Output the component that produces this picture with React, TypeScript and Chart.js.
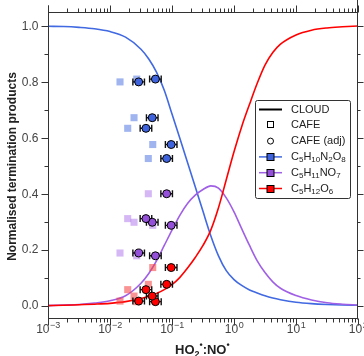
import React, { useEffect, useRef } from "react";
import { Chart, registerables } from "chart.js";
Chart.register(...registerables);

// ---- DATA ----
// CLOUD model curves sampled along HO2:NO
const curveX = [0.001, 0.00178, 0.00316, 0.00562, 0.01, 0.0178, 0.0316, 0.0422, 0.0562, 0.075, 0.1, 0.133, 0.178, 0.237, 0.316, 0.422, 0.562, 0.75, 1, 1.33, 1.78, 2.37, 3.16, 4.22, 5.62, 10, 17.8, 31.6, 56.2, 100];
const cloudC5H10N2O8 = [0.999, 0.998, 0.995, 0.99, 0.98, 0.96, 0.917, 0.882, 0.835, 0.77, 0.685, 0.6, 0.512, 0.425, 0.337, 0.25, 0.178, 0.125, 0.093, 0.072, 0.056, 0.045, 0.035, 0.027, 0.021, 0.012, 0.007, 0.004, 0.002, 0.001];
const cloudC5H11NO7 = [0.0, 0.002, 0.004, 0.009, 0.017, 0.035, 0.08, 0.115, 0.16, 0.215, 0.27, 0.322, 0.365, 0.395, 0.415, 0.428, 0.42, 0.385, 0.335, 0.275, 0.215, 0.16, 0.118, 0.085, 0.062, 0.036, 0.02, 0.01, 0.005, 0.002];
const cloudC5H12O6 = [0.0, 0.001, 0.003, 0.005, 0.008, 0.014, 0.025, 0.033, 0.043, 0.057, 0.075, 0.1, 0.134, 0.172, 0.215, 0.27, 0.35, 0.45, 0.55, 0.64, 0.72, 0.795, 0.86, 0.905, 0.935, 0.968, 0.985, 0.993, 0.997, 1.0];

// CAFE measurements (HO2:NO) and adjusted values
const cafeX = [0.0145, 0.027, 0.0244, 0.0193, 0.0489, 0.0415];
const cafeAdjX = [0.029, 0.054, 0.048, 0.038, 0.097, 0.082];
const adjXErrFactor = 1.24;
const obsC5H10N2O8 = [0.80, 0.81, 0.672, 0.634, 0.576, 0.526];
const obsC5H11NO7 = [0.188, 0.178, 0.298, 0.311, 0.287, 0.40];
const obsC5H12O6 = [0.016, 0.014, 0.034, 0.057, 0.136, 0.076];

const xTickExps = [-3, -2, -1, 0, 1, 2];
const yTicks = [0.0, 0.2, 0.4, 0.6, 0.8, 1.0];

const BLUE = "#4169e1";
const PURPLE = "#a060e6";
const RED = "#ff0000";
const BLUE_PT = "#3f63dc";
const PURPLE_PT = "#9450d8";
const RED_PT = "#ff0000";
const BLUE_SQ = "rgba(65,105,225,0.5)";
const PURPLE_SQ = "rgba(160,96,230,0.45)";
const RED_SQ = "rgba(245,60,60,0.55)";

const FONT = "'Liberation Sans', Arial, sans-serif";
const AXIS = "#333";

const pts = (xs: number[], ys: number[]) => xs.map((x, i) => ({ x, y: ys[i] }));

function drawFormula(ctx: CanvasRenderingContext2D, parts: [string, boolean][], x: number, y: number, size: number, weight = "") {
  let cx = x;
  for (const [t, sub] of parts) {
    const fs = sub ? Math.round(size * 0.72) : size;
    ctx.font = `${weight} ${fs}px ${FONT}`;
    ctx.fillText(t, cx, sub ? y + size * 0.28 : y);
    cx += ctx.measureText(t).width;
  }
  return cx;
}

const axesPlugin = {
  id: "customAxes",
  beforeDatasetDraw(chart: any, args: any) {
    const ds = chart.data.datasets[args.index];
    if (!ds.errorBars) return;
    const ctx = chart.ctx;
    const xs = chart.scales.x;
    ctx.save();
    ctx.strokeStyle = "#111";
    ctx.lineWidth = 1.4;
    args.meta.data.forEach((el: any, i: number) => {
      const xv = ds.data[i].x;
      const xl = xs.getPixelForValue(xv / adjXErrFactor);
      const xr = xs.getPixelForValue(xv * adjXErrFactor);
      const y = el.y;
      ctx.beginPath();
      ctx.moveTo(xl, y); ctx.lineTo(xr, y);
      ctx.moveTo(xl, y - 3.5); ctx.lineTo(xl, y + 3.5);
      ctx.moveTo(xr, y - 3.5); ctx.lineTo(xr, y + 3.5);
      ctx.stroke();
    });
    ctx.restore();
  },
  afterDraw(chart: any) {
    const ctx: CanvasRenderingContext2D = chart.ctx;
    const { left, right, top, bottom } = chart.chartArea;
    const xs = chart.scales.x;
    const ys = chart.scales.y;
    const L = Math.round(left) + 0.5, R = Math.round(right) - 0.5;
    const T = Math.round(top) + 0.5, B = Math.round(bottom) - 0.5;
    ctx.save();
    ctx.strokeStyle = AXIS;
    ctx.lineWidth = 1;
    ctx.beginPath();
    ctx.moveTo(L, T - 7); ctx.lineTo(L, B + 1);
    ctx.moveTo(R, 0); ctx.lineTo(R, B + 1);
    ctx.moveTo(L, T); ctx.lineTo(R, T);
    ctx.moveTo(L, B); ctx.lineTo(R, B);
    for (let e = -3; e <= 2; e++) {
      for (let m = 1; m <= 9; m++) {
        if (e === 2 && m > 1) break;
        const v = m * Math.pow(10, e);
        const px = Math.round(xs.getPixelForValue(v)) + 0.5;
        const len = m === 1 ? 7 : 4;
        ctx.moveTo(px, B); ctx.lineTo(px, B + len);
        ctx.moveTo(px, T); ctx.lineTo(px, T - (m === 1 ? 7 : 4));
      }
    }
    for (let k = 0; k <= 10; k++) {
      const v = k / 10;
      const py = Math.round(ys.getPixelForValue(v)) + 0.5;
      const major = k % 2 === 0;
      ctx.moveTo(L, py); ctx.lineTo(L - (major ? 7 : 4), py);
      ctx.moveTo(R, py); ctx.lineTo(R + (major ? 6 : 3), py);
    }
    ctx.stroke();

    ctx.fillStyle = "#444";
    ctx.font = `12px ${FONT}`;
    ctx.textAlign = "right";
    ctx.textBaseline = "middle";
    yTicks.forEach((v) => {
      ctx.fillText(v.toFixed(1), L - 10, ys.getPixelForValue(v) + 0.5);
    });
    ctx.textAlign = "left";
    ctx.textBaseline = "alphabetic";
    xTickExps.forEach((e) => {
      const px = xs.getPixelForValue(Math.pow(10, e));
      ctx.font = `12px ${FONT}`;
      const wb = ctx.measureText("10").width;
      const expStr = e < 0 ? "\u2212" + Math.abs(e) : String(e);
      ctx.font = `9px ${FONT}`;
      const we = ctx.measureText(expStr).width;
      const x0 = px - (wb + we) / 2;
      ctx.font = `12px ${FONT}`;
      ctx.fillText("10", x0, 333);
      ctx.font = `9px ${FONT}`;
      ctx.fillText(expStr, x0 + wb + 0.5, 327.5);
    });

    ctx.fillStyle = "#222";
    ctx.save();
    ctx.translate(16, (T + B) / 2 + 1);
    ctx.rotate(-Math.PI / 2);
    ctx.textAlign = "center";
    ctx.font = `bold 12px ${FONT}`;
    ctx.fillText("Normalised termination products", 0, 0);
    ctx.restore();

    // x title: HO2•:NO•
    ctx.textAlign = "left";
    let cx = 175;
    const by = 354;
    ctx.font = `bold 13px ${FONT}`;
    ctx.fillText("HO", cx, by); cx += ctx.measureText("HO").width;
    ctx.font = `bold 9px ${FONT}`;
    ctx.fillText("2", cx, by + 3); cx += ctx.measureText("2").width;
    ctx.fillText("\u2022", cx, by - 6); cx += ctx.measureText("\u2022").width;
    ctx.font = `bold 13px ${FONT}`;
    ctx.fillText(":NO", cx, by); cx += ctx.measureText(":NO").width;
    ctx.font = `bold 9px ${FONT}`;
    ctx.fillText("\u2022", cx, by - 6);

    // legend
    const lx = 255.5, ly = 100.5, lw = 95, lh = 98;
    ctx.fillStyle = "#fff";
    ctx.strokeStyle = "#333";
    ctx.lineWidth = 1;
    ctx.beginPath();
    (ctx as any).roundRect ? (ctx as any).roundRect(lx, ly, lw, lh, 2) : ctx.rect(lx, ly, lw, lh);
    ctx.fill();
    ctx.stroke();
    const rowY = (i: number) => 109.5 + i * 15.8;
    const sx0 = 259, sx1 = 282, scx = 270.5, tx = 291;
    ctx.textBaseline = "middle";
    ctx.strokeStyle = "#000";
    ctx.lineWidth = 2;
    ctx.beginPath(); ctx.moveTo(sx0, rowY(0)); ctx.lineTo(sx1, rowY(0)); ctx.stroke();
    ctx.lineWidth = 1;
    ctx.strokeRect(scx - 3, Math.round(rowY(1)) - 3.5, 6, 6);
    ctx.beginPath(); ctx.arc(scx, rowY(2), 3, 0, Math.PI * 2); ctx.stroke();
    const series: [string, [string, boolean][]][] = [
      [BLUE, [["C", false], ["5", true], ["H", false], ["10", true], ["N", false], ["2", true], ["O", false], ["8", true]]],
      [PURPLE, [["C", false], ["5", true], ["H", false], ["11", true], ["NO", false], ["7", true]]],
      [RED, [["C", false], ["5", true], ["H", false], ["12", true], ["O", false], ["6", true]]],
    ];
    const fills = [BLUE_PT, PURPLE_PT, RED_PT];
    series.forEach(([col, parts], k) => {
      const y = rowY(3 + k);
      ctx.strokeStyle = col;
      ctx.lineWidth = 1.5;
      ctx.beginPath(); ctx.moveTo(sx0, y); ctx.lineTo(sx1, y); ctx.stroke();
      ctx.fillStyle = fills[k];
      ctx.strokeStyle = "#000";
      ctx.lineWidth = 1;
      const yy = Math.round(y) - 3.5;
      ctx.fillRect(scx - 3.5, yy, 7, 7);
      ctx.strokeRect(scx - 3.5, yy, 7, 7);
      ctx.fillStyle = "#222";
      drawFormula(ctx, parts, tx, y, 11);
    });
    ctx.fillStyle = "#222";
    ctx.font = `11px ${FONT}`;
    ctx.fillText("CLOUD", tx, rowY(0));
    ctx.fillText("CAFE", tx, rowY(1));
    ctx.fillText("CAFE (adj)", tx, rowY(2));
    ctx.restore();
  },
};

export default function App() {
  const ref = useRef<HTMLCanvasElement>(null);
  useEffect(() => {
    if (!ref.current) return;
    const circle = (data: any, fill: string) => ({
      type: "scatter" as const,
      data,
      pointStyle: "circle",
      pointRadius: 4,
      pointBackgroundColor: fill,
      pointBorderColor: "#000",
      pointBorderWidth: 1,
      showLine: false,
      errorBars: true,
    });
    const square = (data: any, fill: string) => ({
      type: "scatter" as const,
      data,
      pointStyle: "rect",
      pointRadius: 5,
      pointBackgroundColor: fill,
      pointBorderWidth: 0,
      pointBorderColor: "rgba(0,0,0,0)",
      showLine: false,
    });
    const line = (data: any, col: string) => ({
      type: "line" as const,
      data,
      borderColor: col,
      borderWidth: 1.6,
      pointRadius: 0,
      fill: false,
      cubicInterpolationMode: "monotone" as const,
    });
    const chart = new Chart(ref.current, {
      type: "scatter",
      data: {
        datasets: [
          circle(pts(cafeAdjX, obsC5H12O6), RED_PT),
          circle(pts(cafeAdjX, obsC5H11NO7), PURPLE_PT),
          circle(pts(cafeAdjX, obsC5H10N2O8), BLUE_PT),
          square(pts(cafeX, obsC5H12O6), RED_SQ),
          square(pts(cafeX, obsC5H11NO7), PURPLE_SQ),
          square(pts(cafeX, obsC5H10N2O8), BLUE_SQ),
          line(pts(curveX, cloudC5H12O6), RED),
          line(pts(curveX, cloudC5H11NO7), PURPLE),
          line(pts(curveX, cloudC5H10N2O8), BLUE),
        ] as any,
      },
      options: {
        animation: false,
        responsive: false,
        devicePixelRatio: 1,
        layout: { padding: { left: 48, right: 6, top: 12, bottom: 37 } },
        plugins: { legend: { display: false }, tooltip: { enabled: false } },
        scales: {
          x: { type: "logarithmic", min: 0.001, max: 100, display: false },
          y: { type: "linear", min: -0.048, max: 1.05, display: false },
        },
      },
      plugins: [axesPlugin],
    });
    return () => chart.destroy();
  }, []);
  return (
    <div style={{ position: "fixed", left: 0, top: 0, width: 364, height: 356, background: "#fff" }}>
      <canvas ref={ref} width={364} height={356} style={{ width: 364, height: 356, display: "block" }} />
    </div>
  );
}
